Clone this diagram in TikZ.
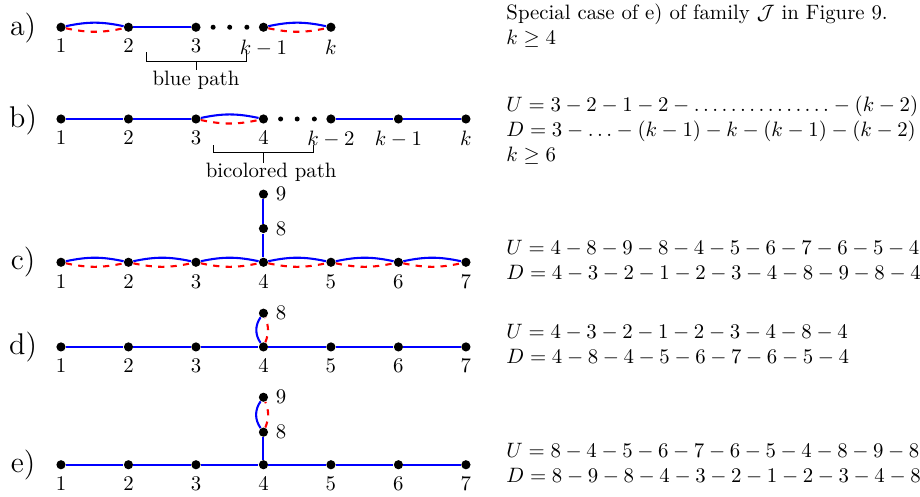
\documentclass[tikz,border=0pt]{standalone}
\usepackage{mathtools}
\usepackage{amssymb}
\usepackage{tikz}
\usepackage{xcolor}

\begin{document}
\begin{tikzpicture} %Caminos U y D
  [
    % Estilos de vertices, puntos y aristas
    vert/.style={circle, fill, minimum size=4.4pt, inner sep=0pt},
    punto/.style={circle, fill, minimum size=2.4pt, inner sep=0pt},
    azul/.style={blue, line width=1pt},
    rojo/.style={red, dashed, line width=1pt},
    texto/.style={anchor=west, align=left}
  ]
  \useasboundingbox (0,0) rectangle (15.54,-8.38);

  % a)
  \node[font=\Large] (la) at (0.39,-0.48) {a)};
  \node[vert, label=below:$1$] (a1) at (1.03,-0.46) {};
  \node[vert, label=below:$2$] (a2) at (2.17,-0.46) {};
  \node[vert, label=below:$3$] (a3) at (3.31,-0.46) {};
  \node[punto] (ap1) at (3.60,-0.46) {};
  \node[punto] (ap2) at (3.88,-0.46) {};
  \node[punto] (ap3) at (4.17,-0.46) {};
  \node[vert, label={below:$k-1$}] (a4) at (4.45,-0.46) {};
  \node[vert, label=below:$k$] (a5) at (5.59,-0.46) {};
  \draw[azul] (a1) to[bend left=12] (a2);
  \draw[rojo] (a1) to[bend right=12] (a2);
  \draw[azul] (a2) -- (a3);
  \draw[azul] (a4) to[bend left=12] (a5);
  \draw[rojo] (a4) to[bend right=12] (a5);
  \node[inner sep=0pt] (azulpath) at (3.31,-1.35) {blue path};
  \draw (2.47,-0.88) -- (2.47,-1.03) -- (4.17,-1.03) -- (4.17,-0.88);
  \draw (3.31,-1.03) -- (azulpath.north);
  \node[texto] (ta) at (8.43,-0.43) {Special case of e) of family $\mathcal{J}$ in Figure 9.\\ $k \geq 4$};

  % b)
  \node[font=\Large] (lb) at (0.39,-2.03) {b)};
  \node[vert, label=below:$1$] (b1) at (1.03,-2.01) {};
  \node[vert, label=below:$2$] (b2) at (2.17,-2.01) {};
  \node[vert, label=below:$3$] (b3) at (3.31,-2.01) {};
  \node[vert, label=below:$4$] (b4) at (4.45,-2.01) {};
  \node[punto] (bp1) at (4.74,-2.01) {};
  \node[punto] (bp2) at (5.02,-2.01) {};
  \node[punto] (bp3) at (5.31,-2.01) {};
  \node[vert, label={below:$k-2$}] (b5) at (5.59,-2.01) {};
  \node[vert, label={below:$k-1$}] (b6) at (6.73,-2.01) {};
  \node[vert, label=below:$k$] (b7) at (7.87,-2.01) {};
  \draw[azul] (b1) -- (b2) -- (b3);
  \draw[azul] (b3) to[bend left=12] (b4);
  \draw[rojo] (b3) to[bend right=12] (b4);
  \draw[azul] (b5) -- (b6) -- (b7);
  \node[inner sep=0pt] (bicolor) at (4.58,-2.91) {bicolored path};
  \draw (3.60,-2.45) -- (3.60,-2.58) -- (5.29,-2.58) -- (5.29,-2.45);
  \draw (4.45,-2.58) -- (4.45,-2.58 |- bicolor.north);
  \node[texto] (tb) at (8.43,-2.20) {$U = 3 - 2 - 1 - 2 - \ldots\ldots\ldots\ldots\ldots - (k-2)$\\
    $D = 3 - \ldots - (k-1) - k - (k-1) - (k-2)$\\ $k \geq 6$};

  % c)
  \node[font=\Large] (lc) at (0.39,-4.43) {c)};
  \node[vert, label=below:$1$] (c1) at (1.03,-4.43) {};
  \node[vert, label=below:$2$] (c2) at (2.17,-4.43) {};
  \node[vert, label=below:$3$] (c3) at (3.31,-4.43) {};
  \node[vert, label=below:$4$] (c4) at (4.45,-4.43) {};
  \node[vert, label=below:$5$] (c5) at (5.59,-4.43) {};
  \node[vert, label=below:$6$] (c6) at (6.73,-4.43) {};
  \node[vert, label=below:$7$] (c7) at (7.87,-4.43) {};
  \node[vert, label=right:$8$] (c8) at (4.45,-3.86) {};
  \node[vert, label=right:$9$] (c9) at (4.45,-3.28) {};
  \draw[azul] (c1) to[bend left=12] (c2);
  \draw[rojo] (c1) to[bend right=12] (c2);
  \draw[azul] (c2) to[bend left=12] (c3);
  \draw[rojo] (c2) to[bend right=12] (c3);
  \draw[azul] (c3) to[bend left=12] (c4);
  \draw[rojo] (c3) to[bend right=12] (c4);
  \draw[azul] (c4) to[bend left=12] (c5);
  \draw[rojo] (c4) to[bend right=12] (c5);
  \draw[azul] (c5) to[bend left=12] (c6);
  \draw[rojo] (c5) to[bend right=12] (c6);
  \draw[azul] (c6) to[bend left=12] (c7);
  \draw[rojo] (c6) to[bend right=12] (c7);
  \draw[azul] (c4) -- (c8) -- (c9);
  \node[texto] (tc) at (8.43,-4.41) {$U = 4-8-9-8-4-5-6-7-6-5-4$\\ $D = 4-3-2-1-2-3-4-8-9-8-4$};

  % d)
  \node[font=\Large] (ld) at (0.39,-5.86) {d)};
  \node[vert, label=below:$1$] (d1) at (1.03,-5.86) {};
  \node[vert, label=below:$2$] (d2) at (2.17,-5.86) {};
  \node[vert, label=below:$3$] (d3) at (3.31,-5.86) {};
  \node[vert, label=below:$4$] (d4) at (4.45,-5.86) {};
  \node[vert, label=below:$5$] (d5) at (5.59,-5.86) {};
  \node[vert, label=below:$6$] (d6) at (6.73,-5.86) {};
  \node[vert, label=below:$7$] (d7) at (7.87,-5.86) {};
  \node[vert, label=right:$8$] (d8) at (4.45,-5.29) {};
  \draw[azul] (d1) -- (d2) -- (d3) -- (d4) -- (d5) -- (d6) -- (d7);
  \draw[azul] (d4) to[bend left=35] (d8);
  \draw[rojo] (d4) to[bend right=22] (d8);
  \node[texto] (td) at (8.43,-5.83) {$U = 4-3-2-1-2-3-4-8-4$\\ $D = 4-8-4-5-6-7-6-5-4$};

  % e)
  \node[font=\Large] (le) at (0.39,-7.85) {e)};
  \node[vert, label=below:$1$] (e1) at (1.03,-7.85) {};
  \node[vert, label=below:$2$] (e2) at (2.17,-7.85) {};
  \node[vert, label=below:$3$] (e3) at (3.31,-7.85) {};
  \node[vert, label=below:$4$] (e4) at (4.45,-7.85) {};
  \node[vert, label=below:$5$] (e5) at (5.59,-7.85) {};
  \node[vert, label=below:$6$] (e6) at (6.73,-7.85) {};
  \node[vert, label=below:$7$] (e7) at (7.87,-7.85) {};
  \node[vert, label=right:$8$] (e8) at (4.45,-7.30) {};
  \node[vert, label=right:$9$] (e9) at (4.45,-6.71) {};
  \draw[azul] (e1) -- (e2) -- (e3) -- (e4) -- (e5) -- (e6) -- (e7);
  \draw[azul] (e4) -- (e8);
  \draw[azul] (e8) to[bend left=35] (e9);
  \draw[rojo] (e8) to[bend right=22] (e9);
  \node[texto] (te) at (8.43,-7.83) {$U = 8-4-5-6-7-6-5-4-8-9-8$\\ $D = 8-9-8-4-3-2-1-2-3-4-8$};

\end{tikzpicture}
\end{document}
